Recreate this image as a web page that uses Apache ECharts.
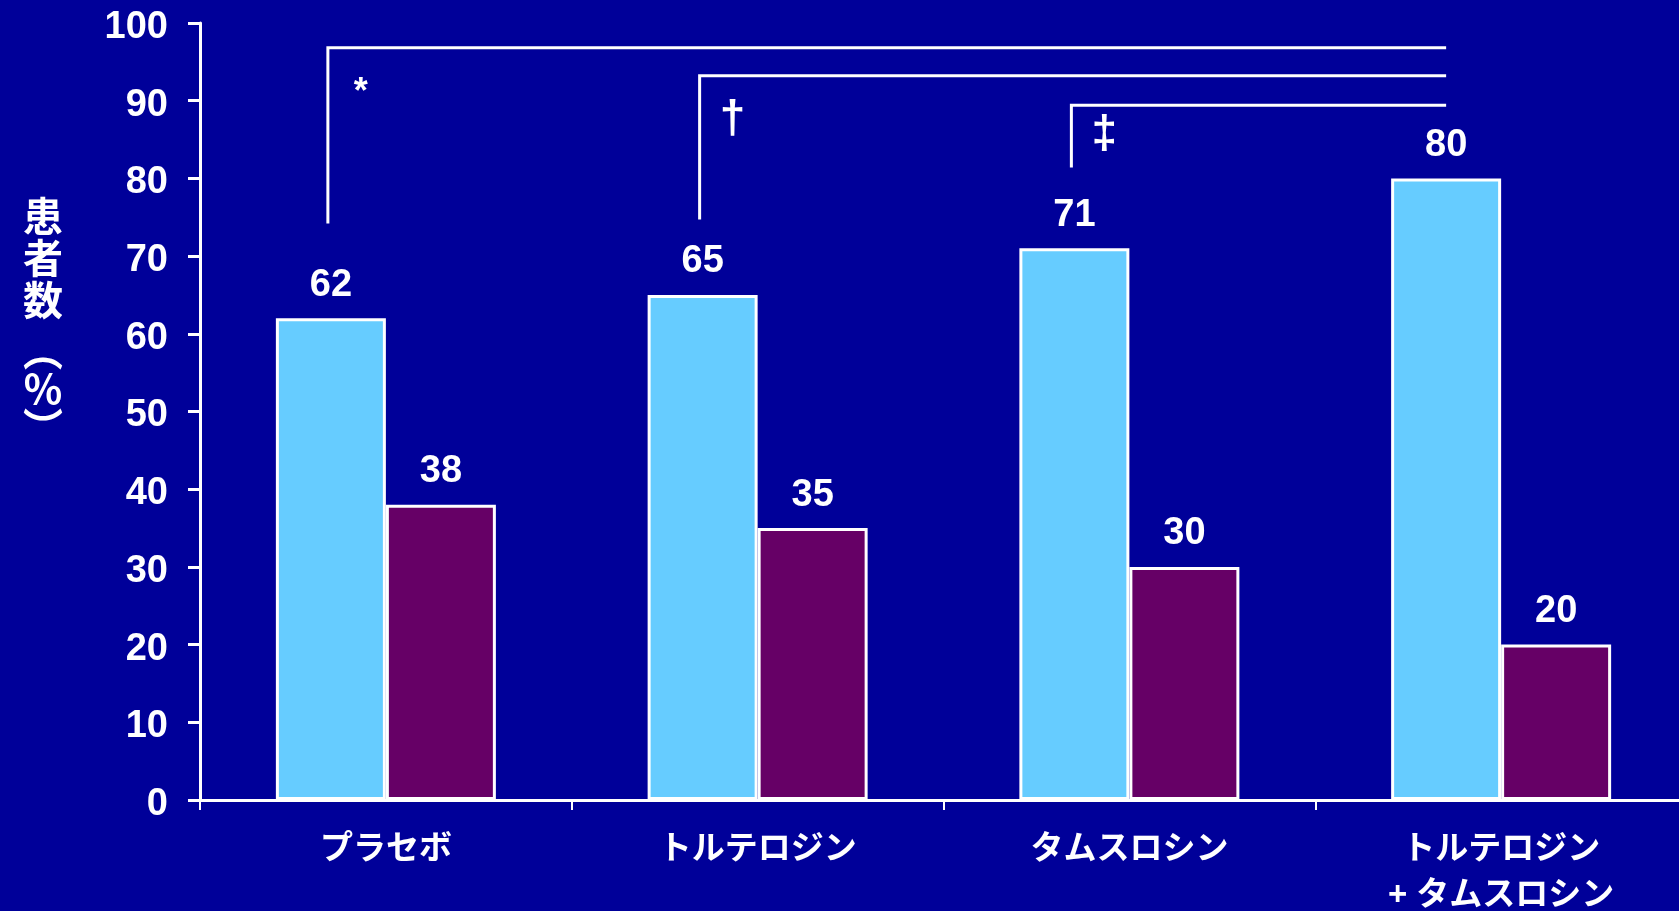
<!DOCTYPE html>
<html>
<head>
<meta charset="utf-8">
<script src="https://cdn.jsdelivr.net/npm/echarts@6/dist/echarts.min.js"></script>
<style>
html,body{margin:0;padding:0;background:#000099;}
#chart{width:1679px;height:911px;}
</style>
</head>
<body>
<div id="chart"></div>
<script>
// ---- data ----
const categories = ['プラセボ', 'トルテロジン', 'タムスロシン', 'トルテロジン\n+ タムスロシン'];
const seriesA = [62, 65, 71, 80];   // light blue bars
const seriesB = [38, 35, 30, 20];   // purple bars
const yTicks = { min: 0, max: 100, interval: 10 };
// significance brackets: start category, bottom value, top value, symbol value, end category
const bracketStart = [0, 1, 2];
const bracketBottom = [74.2, 74.7, 81.4];
const bracketTop = [96.8, 93.2, 89.4];
const bracketSymbolY = [91, 87.5, 85.6];
const bracketEnd = [3, 3, 3];
const bracketSymbols = ['*', '†', '‡'];

// ---- styles ----
const BAR_W = 110;
const FONT = "'Liberation Sans', Arial, 'Noto Sans CJK JP', sans-serif";
const WHITE = '#ffffff';

const chart = echarts.init(document.getElementById('chart'));

const bracketData = bracketStart.map((s, i) => [s, bracketBottom[i], bracketTop[i], bracketSymbolY[i], bracketEnd[i]]);

const option = {
  backgroundColor: '#000099',
  animation: false,
  title: {
    left: 38,
    top: 190,
    textAlign: 'center',
    text: '患\n者\n数',
    subtext: '︵\n%\n︶',
    itemGap: 11,
    textStyle: { color: WHITE, fontSize: 40, lineHeight: 42, fontWeight: 'bold', fontFamily: "'Noto Sans CJK JP', sans-serif" },
    subtextStyle: { color: WHITE, fontSize: 40, lineHeight: 38, fontWeight: 'bold', fontFamily: "'Noto Sans CJK JP', sans-serif" }
  },
  grid: { left: 200, right: -8, top: 23, bottom: 111, containLabel: false, outerBoundsMode: 'none' },
  xAxis: {
    type: 'category',
    data: categories,
    axisLine: { lineStyle: { color: WHITE, width: 3 } },
    axisTick: { show: true, alignWithLabel: false, length: 10, lineStyle: { color: WHITE, width: 2 } },
    axisLabel: { color: WHITE, fontSize: 33, fontWeight: 'bold', fontFamily: FONT, lineHeight: 46, margin: 27, interval: 0 },
    splitLine: { show: false }
  },
  yAxis: {
    type: 'value',
    min: yTicks.min, max: yTicks.max, interval: yTicks.interval,
    axisLine: { show: true, lineStyle: { color: WHITE, width: 3 } },
    axisTick: { show: true, length: 12, lineStyle: { color: WHITE, width: 3 } },
    axisLabel: {
      margin: 32,
      formatter: '{v|{value}}',
      rich: { v: { color: WHITE, fontSize: 38, fontWeight: 'bold', fontFamily: FONT, padding: [9, 0, 0, 0] } }
    },
    splitLine: { show: false }
  },
  series: [
    {
      type: 'bar', data: seriesA, barWidth: BAR_W, barGap: '0%',
      itemStyle: { color: '#66CCFF', borderColor: WHITE, borderWidth: 3 },
      label: { show: true, position: 'top', distance: 14, color: WHITE, fontSize: 38, fontWeight: 'bold', fontFamily: FONT }
    },
    {
      type: 'bar', data: seriesB, barWidth: BAR_W, barGap: '0%',
      itemStyle: { color: '#660066', borderColor: WHITE, borderWidth: 3 },
      label: { show: true, position: 'top', distance: 14, color: WHITE, fontSize: 38, fontWeight: 'bold', fontFamily: FONT }
    },
    {
      type: 'custom',
      data: bracketData,
      encode: { x: 0, y: [1, 2] },
      clip: false,
      z: 10,
      silent: true,
      renderItem: function (params, api) {
        const s = api.value(0), b = api.value(1), t = api.value(2), sy = api.value(3), e = api.value(4);
        const x0 = api.coord([s, 0])[0] - BAR_W / 2 - 3;
        const x1 = api.coord([e, 0])[0] - BAR_W / 2;
        const yb = api.coord([s, b])[1];
        const yt = api.coord([s, t])[1];
        const ys = api.coord([s, sy])[1];
        const sym = bracketSymbols[params.dataIndex];
        const size = sym === '*' ? 36 : 46;
        return {
          type: 'group',
          children: [
            { type: 'polyline', shape: { points: [[x0, yb], [x0, yt], [x1, yt]] },
              style: { stroke: WHITE, lineWidth: 3, fill: null } },
            { type: 'text', style: { text: sym, x: x0 + 33, y: ys,
              fill: WHITE, font: 'bold ' + size + 'px ' + FONT, align: 'center', verticalAlign: 'middle' } }
          ]
        };
      }
    }
  ]
};
chart.setOption(option);
</script>
</body>
</html>
